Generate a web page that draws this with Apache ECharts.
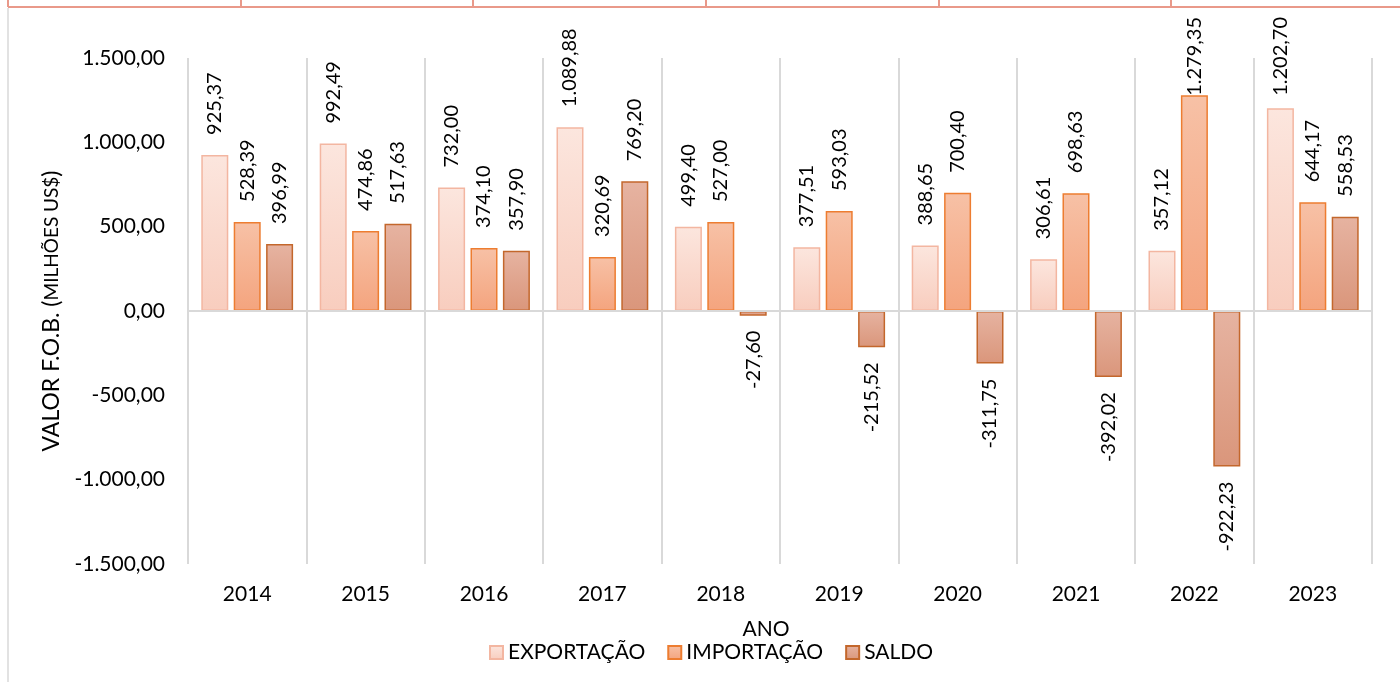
<!DOCTYPE html>
<html>
<head>
<meta charset="utf-8">
<script src="https://cdn.jsdelivr.net/npm/echarts@6/dist/echarts.min.js"></script>
<style>
  html, body { margin: 0; padding: 0; background: #ffffff; }
  #chart { width: 1400px; height: 682px; }
</style>
</head>
<body>
<div id="chart"></div>
<script>
// Balança comercial por ano (valores FOB, milhões US$)
const anos = ['2014', '2015', '2016', '2017', '2018', '2019', '2020', '2021', '2022', '2023'];
const exportacao = [925.37, 992.49, 732.00, 1089.88, 499.40, 377.51, 388.65, 306.61, 357.12, 1202.70];
const importacao = [528.39, 474.86, 374.10, 320.69, 527.00, 593.03, 700.40, 698.63, 1279.35, 644.17];
const saldo = [396.99, 517.63, 357.90, 769.20, -27.60, -215.52, -311.75, -392.02, -922.23, 558.53];
const yTicks = { min: -1500, max: 1500, interval: 500 };

const FONT = 'Lato, "Noto Sans", sans-serif';
const GRID_COLOR = '#D9D9D9';

// Número no formato brasileiro: 1.089,88
function fmtBR(v) {
  const parts = Math.abs(v).toFixed(2).split('.');
  const inteiro = parts[0].replace(/\B(?=(\d{3})+(?!\d))/g, '.');
  return (v < 0 ? '-' : '') + inteiro + ',' + parts[1];
}

function grad(top, bottom) {
  return new echarts.graphic.LinearGradient(0, 0, 0, 1, [
    { offset: 0, color: top },
    { offset: 1, color: bottom }
  ]);
}

// Rótulos abaixo da barra quando o valor é negativo
function toData(values) {
  return values.map(v => v < 0
    ? { value: v, label: { position: 'bottom', align: 'right', distance: 15 } }
    : v);
}

const baseLabel = {
  show: true,
  position: 'top',
  rotate: 90,
  align: 'left',
  verticalAlign: 'middle',
  distance: 20,
  fontFamily: FONT,
  fontSize: 20,
  color: '#000000',
  formatter: p => fmtBR(p.value)
};

// Mantém os rótulos dentro da área do gráfico.
// O deslocamento é aplicado no eixo do texto girado (90°): dx negativo desce o rótulo.
const LABEL_TOP = 17;
function keepInside(params) {
  const r = params.labelRect;
  if (r.y < LABEL_TOP) return { dx: -(LABEL_TOP - r.y) };
  return {};
}

function barSeries(name, values, fillTop, fillBottom, border) {
  return {
    name: name,
    type: 'bar',
    data: toData(values),
    barWidth: 27,
    barGap: '20%',
    itemStyle: { color: grad(fillTop, fillBottom), borderColor: border, borderWidth: 1.5 },
    label: baseLabel,
    labelLayout: keepInside,
    emphasis: { disabled: true }
  };
}

const chart = echarts.init(document.getElementById('chart'), null, { renderer: 'canvas' });

const series = [
  barSeries('EXPORTAÇÃO', exportacao, '#FCE6DE', '#F8CDBE', '#F3B6A1'),
  barSeries('IMPORTAÇÃO', importacao, '#F7C1A6', '#F4A47E', '#ED7D31'),
  barSeries('SALDO', saldo, '#E6B3A1', '#DA967B', '#C3672C')
];
// linha do zero
series[2].markLine = {
  silent: true,
  symbol: 'none',
  label: { show: false },
  lineStyle: { color: GRID_COLOR, width: 2, type: 'solid' },
  data: [{ yAxis: 0 }]
};

chart.setOption({
  animation: false,
  backgroundColor: '#ffffff',
  textStyle: { fontFamily: FONT },
  grid: { left: 188, right: 28, top: 58, bottom: 118, containLabel: false },
  legend: {
    left: 484,
    top: 637,
    itemWidth: 13,
    itemHeight: 13,
    itemGap: 22,
    icon: 'rect',
    textStyle: { fontFamily: FONT, fontSize: 21, color: '#000000' },
    data: ['EXPORTAÇÃO', 'IMPORTAÇÃO', 'SALDO']
  },
  xAxis: {
    type: 'category',
    data: anos,
    boundaryGap: true,
    name: 'ANO',
    nameLocation: 'middle',
    nameGap: 55,
    nameTextStyle: { fontFamily: FONT, fontSize: 21, color: '#000000', padding: [0, 28, 0, 0] },
    axisLine: { show: false },
    axisTick: { show: false },
    axisLabel: { fontFamily: FONT, fontSize: 21, color: '#000000', margin: 20 },
    splitLine: { show: true, lineStyle: { color: GRID_COLOR, width: 2 } }
  },
  yAxis: {
    type: 'value',
    min: yTicks.min,
    max: yTicks.max,
    interval: yTicks.interval,
    name: '{a|VALOR F.O.B. (}{b|MILHÕES US$}{a|)}',
    nameLocation: 'middle',
    nameRotate: 90,
    nameGap: 110,
    nameTextStyle: {
      rich: {
        a: { fontFamily: FONT, fontSize: 23, color: '#000000' },
        b: { fontFamily: FONT, fontSize: 19, color: '#000000' }
      }
    },
    axisLine: { show: false },
    axisTick: { show: false },
    splitLine: { show: false },
    axisLabel: { fontFamily: FONT, fontSize: 21, color: '#000000', margin: 23, formatter: v => fmtBR(v) }
  },
  graphic: [
    // borda da área do gráfico
    { type: 'line', shape: { x1: 8, y1: 8, x2: 8, y2: 682 }, style: { stroke: GRID_COLOR, lineWidth: 1.5 }, silent: true },
    // linha da tabela acima
    { type: 'line', shape: { x1: 8, y1: 7, x2: 1400, y2: 7 }, style: { stroke: '#E9998A', lineWidth: 2 }, silent: true },
    { type: 'line', shape: { x1: 8, y1: 0, x2: 8, y2: 7 }, style: { stroke: '#E9998A', lineWidth: 2 }, silent: true },
    { type: 'line', shape: { x1: 241, y1: 0, x2: 241, y2: 7 }, style: { stroke: '#E9998A', lineWidth: 2 }, silent: true },
    { type: 'line', shape: { x1: 473, y1: 0, x2: 473, y2: 7 }, style: { stroke: '#E9998A', lineWidth: 2 }, silent: true },
    { type: 'line', shape: { x1: 706, y1: 0, x2: 706, y2: 7 }, style: { stroke: '#E9998A', lineWidth: 2 }, silent: true },
    { type: 'line', shape: { x1: 939, y1: 0, x2: 939, y2: 7 }, style: { stroke: '#E9998A', lineWidth: 2 }, silent: true },
    { type: 'line', shape: { x1: 1171, y1: 0, x2: 1171, y2: 7 }, style: { stroke: '#E9998A', lineWidth: 2 }, silent: true }
  ],
  series: series
});
</script>
</body>
</html>
